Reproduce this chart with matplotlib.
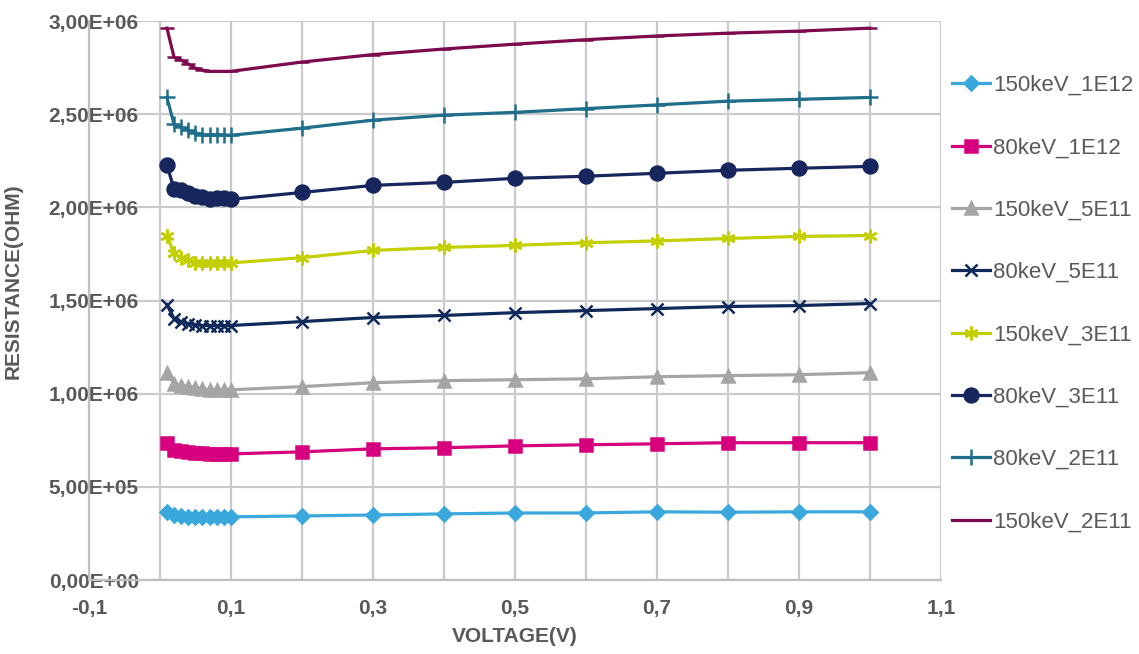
import matplotlib.pyplot as plt
from matplotlib.ticker import FuncFormatter, MultipleLocator, FixedLocator

plt.rcParams['font.family'] = ['Liberation Sans', 'DejaVu Sans']

voltage = [0.01, 0.02, 0.03, 0.04, 0.05, 0.06, 0.07, 0.08, 0.09, 0.1,
           0.2, 0.3, 0.4, 0.5, 0.6, 0.7, 0.8, 0.9, 1.0]

# resistance in MOhm
r_150kev_1e12 = [0.366, 0.349, 0.341, 0.339, 0.339, 0.339, 0.339, 0.339, 0.339, 0.339,
                 0.344, 0.349, 0.355, 0.360, 0.360, 0.366, 0.364, 0.366, 0.366]
r_80kev_1e12 = [0.737, 0.699, 0.694, 0.688, 0.683, 0.682, 0.677, 0.677, 0.677, 0.677,
                0.688, 0.704, 0.710, 0.720, 0.726, 0.731, 0.737, 0.737, 0.737]
r_150kev_5e11 = [1.113, 1.054, 1.043, 1.038, 1.032, 1.027, 1.021, 1.021, 1.021, 1.021,
                 1.038, 1.059, 1.070, 1.075, 1.080, 1.091, 1.097, 1.102, 1.113]
r_80kev_5e11 = [1.478, 1.403, 1.387, 1.376, 1.370, 1.366, 1.366, 1.366, 1.366, 1.366,
                1.387, 1.409, 1.420, 1.435, 1.446, 1.457, 1.468, 1.473, 1.484]
r_150kev_3e11 = [1.849, 1.753, 1.730, 1.720, 1.704, 1.704, 1.702, 1.702, 1.704, 1.702,
                 1.730, 1.769, 1.785, 1.796, 1.810, 1.820, 1.833, 1.844, 1.849]
r_80kev_3e11 = [2.226, 2.100, 2.095, 2.075, 2.060, 2.055, 2.043, 2.048, 2.048, 2.043,
                2.080, 2.118, 2.134, 2.156, 2.167, 2.183, 2.199, 2.210, 2.220]
r_80kev_2e11 = [2.590, 2.446, 2.430, 2.414, 2.400, 2.390, 2.390, 2.390, 2.390, 2.387,
                2.425, 2.468, 2.495, 2.510, 2.530, 2.550, 2.570, 2.580, 2.590]
r_150kev_2e11 = [2.962, 2.806, 2.790, 2.770, 2.747, 2.737, 2.730, 2.730, 2.730, 2.730,
                 2.780, 2.820, 2.850, 2.876, 2.900, 2.920, 2.935, 2.946, 2.962]

x_ticks = [-0.1, 0.1, 0.3, 0.5, 0.7, 0.9, 1.1]

series = [
    ("150keV_1E12", r_150kev_1e12, "#3AA8DC", "D", 7),
    ("80keV_1E12", r_80kev_1e12, "#D6007F", "s", 9),
    ("150keV_5E11", r_150kev_5e11, "#A5A5A5", "^", 8),
    ("80keV_5E11", r_80kev_5e11, "#0F2A5A", "x", 8),
    ("150keV_3E11", r_150kev_3e11, "#C4CF00", (6, 2, 0), 10),
    ("80keV_3E11", r_80kev_3e11, "#17275E", "o", 10),
    ("80keV_2E11", r_80kev_2e11, "#1F6E8C", "+", 11),
    ("150keV_2E11", r_150kev_2e11, "#7D0A4E", "_", 10),
]

GREY = "#595959"


def y_fmt(v, pos):
    return ("%.2E" % v).replace(".", ",")


def x_fmt(v, pos):
    return ("%.1f" % v).replace(".", ",")


def main():
    fig = plt.figure(figsize=(11.39, 6.54), dpi=100)
    ax = fig.add_axes([0.078, 0.1131, 0.748, 0.8547])

    for label, vals, color, marker, ms in series:
        ax.plot(voltage, [v * 1e6 for v in vals], color=color, marker=marker,
                markersize=ms, linewidth=2.3, markeredgewidth=1.8,
                markeredgecolor=color, label=label)

    ax.set_xlim(-0.1, 1.1)
    ax.set_ylim(0, 3e6)
    ax.xaxis.set_major_locator(FixedLocator(x_ticks))
    ax.xaxis.set_minor_locator(MultipleLocator(0.1))
    ax.yaxis.set_major_locator(MultipleLocator(5e5))
    ax.xaxis.set_major_formatter(FuncFormatter(x_fmt))
    ax.yaxis.set_major_formatter(FuncFormatter(y_fmt))

    ax.grid(True, which="both", axis="x", color="#CACACA", linewidth=1.6)
    ax.grid(True, which="major", axis="y", color="#CACACA", linewidth=1.6)
    ax.set_axisbelow(True)
    for side in ["top", "right"]:
        ax.spines[side].set_visible(False)
    for side in ["left", "bottom"]:
        ax.spines[side].set_color("#C0C0C0")
        ax.spines[side].set_linewidth(1.6)
    ax.tick_params(which="both", length=0, colors=GREY, labelsize=15)
    ax.tick_params(axis="x", pad=14)
    ax.tick_params(axis="y", pad=-36)
    for lbl in ax.get_xticklabels() + ax.get_yticklabels():
        lbl.set_fontweight("bold")

    ax.set_xlabel("VOLTAGE(V)", fontsize=15, fontweight="bold", color=GREY, labelpad=6)
    ax.set_ylabel("RESISTANCE(OHM)", fontsize=15, fontweight="bold", color=GREY)
    ax.yaxis.set_label_coords(-0.078, 0.535)

    leg = fig.legend(loc="upper left", bbox_to_anchor=(952 / 1139, 1 - 75 / 654),
                     frameon=False, fontsize=16, labelspacing=1.86,
                     handlelength=1.7, handletextpad=0.15,
                     borderpad=0, borderaxespad=0)
    for t in leg.get_texts():
        t.set_color(GREY)

    fig.savefig("out.png", dpi=100)


if __name__ == "__main__":
    main()
